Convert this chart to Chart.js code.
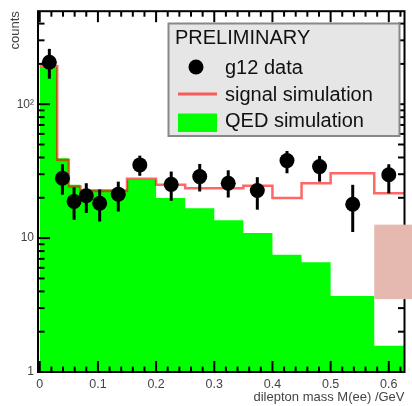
<!DOCTYPE html>
<html>
<head>
<meta charset="utf-8">
<script src="https://cdn.jsdelivr.net/npm/chart.js@4.4.1/dist/chart.umd.min.js"></script>
<style>
  html, body { margin: 0; padding: 0; background: #fff; }
  #chart { display: block; }
</style>
</head>
<body>
<canvas id="chart" width="412" height="406"></canvas>
<script>
// histogram bin edges (GeV); last edge runs past the axis end
const binEdges = [0, 0.03, 0.05, 0.07, 0.09, 0.12, 0.15, 0.2, 0.25, 0.3, 0.35, 0.4, 0.45, 0.5, 0.575, 0.63];
// QED simulation (green) and signal simulation (red) per bin
const qedSim = [189, 39.4, 25.0, 23.2, 23.2, 23.2, 27.3, 19.9, 16.7, 13.6, 10.9, 7.5, 6.6, 3.7, 1.57];
const signalSim = [192, 38.3, 24.3, 22.5, 22.5, 22.5, 27.7, 25.0, 23.6, 23.6, 24.6, 19.9, 25.7, 30.5, 21.6];

// g12 data points with error bars
const dataX = [0.0165, 0.039, 0.059, 0.08, 0.103, 0.135, 0.172, 0.226, 0.275, 0.324, 0.374, 0.425, 0.481, 0.538, 0.6];
const dataY = [206, 28.0, 18.8, 20.7, 18.2, 21.3, 35.2, 25.2, 28.8, 25.7, 22.7, 37.9, 34.2, 17.9, 29.7];
const errLow = [155, 21.1, 13.7, 15.4, 13.3, 15.8, 29.2, 19.0, 22.3, 20.1, 16.3, 30.5, 26.4, 11.1, 21.6];
const errHigh = [259, 35.6, 23.9, 25.7, 23.1, 26.4, 41.3, 31.4, 35.8, 32.1, 28.5, 44.7, 41.1, 25.0, 35.6];

const yTickLabels = { 1: '1', 10: '10', 100: '10\u00b2' };
const legendTitle = 'PRELIMINARY';
const legendLabels = ['g12 data', 'signal simulation', 'QED simulation'];
// pasted-over box: [x start, y bottom, y top]
const pinkBox = [0.575, 3.5, 12.6];

const FONT = "'Liberation Sans', Arial, Helvetica, sans-serif";
const RED = 'rgba(255,0,0,0.6)';
const GREEN = '#00ff00';

function steps(values) {
    const pts = values.map((v, i) => ({ x: binEdges[i], y: v }));
    pts.push({ x: binEdges[binEdges.length - 1], y: values[values.length - 1] });
    return pts;
}

// frame + inward ticks on all four sides, error bars
const frameAndTicks = {
    id: 'frameAndTicks',
    afterDatasetsDraw(chart) {
        const { ctx, chartArea: a, scales: { x, y } } = chart;
        ctx.save();
        ctx.strokeStyle = '#000';
        ctx.lineCap = 'butt';

        // error bars
        ctx.lineWidth = 3;
        dataX.forEach((vx, i) => {
            const px = x.getPixelForValue(vx);
            ctx.beginPath();
            ctx.moveTo(px, y.getPixelForValue(errLow[i]));
            ctx.lineTo(px, y.getPixelForValue(errHigh[i]));
            ctx.stroke();
        });

        ctx.lineWidth = 2;
        const line = (x0, y0, x1, y1) => {
            ctx.beginPath(); ctx.moveTo(x0, y0); ctx.lineTo(x1, y1); ctx.stroke();
        };
        for (let i = 0; i <= 40; i++) {
            const px = x.getPixelForValue(i * 0.02);
            if (px > a.right) break;
            const len = i % 5 === 0 ? 11 : 5.5;
            line(px, a.bottom, px, a.bottom - len);
            line(px, a.top, px, a.top + len);
        }
        for (const d of [1, 10, 100]) {
            for (let m = 1; m <= 9; m++) {
                const v = d * m;
                if (v > y.max) break;
                const py = y.getPixelForValue(v);
                const len = m === 1 ? 12 : 6.5;
                line(a.left, py, a.left + len, py);
                line(a.right, py, a.right - len, py);
            }
        }
        ctx.strokeRect(a.left, a.top, a.right - a.left, a.bottom - a.top);
        ctx.restore();
    },
    afterDraw(chart) {
        const { ctx, scales: { x, y } } = chart;
        ctx.save();
        // pink overlay box
        const x0 = x.getPixelForValue(pinkBox[0]);
        const yTop = y.getPixelForValue(pinkBox[2]);
        const yBot = y.getPixelForValue(pinkBox[1]);
        ctx.fillStyle = '#e5b9b0';
        ctx.fillRect(x0, yTop, chart.width - x0, yBot - yTop);

        // legend box
        ctx.fillStyle = '#e6e6e6';
        ctx.fillRect(168.5, 23.5, 231, 112.5);
        ctx.strokeStyle = '#888';
        ctx.lineWidth = 2;
        ctx.strokeRect(168.5, 23.5, 231, 112.5);

        ctx.fillStyle = '#111';
        ctx.font = '20px ' + FONT;
        ctx.textBaseline = 'alphabetic';
        ctx.textAlign = 'left';
        ctx.fillText(legendTitle, 175, 43.5);
        const baselines = [74, 100.5, 127];
        legendLabels.forEach((t, i) => ctx.fillText(t, 225, baselines[i]));

        ctx.fillStyle = '#000';
        ctx.beginPath();
        ctx.arc(196, 67, 7.5, 0, Math.PI * 2);
        ctx.fill();
        ctx.strokeStyle = RED;
        ctx.lineWidth = 3;
        ctx.beginPath(); ctx.moveTo(178, 94); ctx.lineTo(217, 94); ctx.stroke();
        ctx.fillStyle = GREEN;
        ctx.fillRect(178, 113.5, 39, 18.5);
        ctx.restore();
    }
};

const ctx = document.getElementById('chart').getContext('2d');
new Chart(ctx, {
    type: 'scatter',
    data: {
        datasets: [
            {
                type: 'scatter',
                label: legendLabels[0],
                data: dataX.map((v, i) => ({ x: v, y: dataY[i] })),
                pointRadius: 7.5,
                pointBackgroundColor: '#000',
                pointBorderWidth: 0,
                order: 0
            },
            {
                type: 'line',
                label: legendLabels[1],
                data: steps(signalSim),
                stepped: 'before',
                borderColor: RED,
                borderWidth: 2.5,
                pointRadius: 0,
                fill: false,
                clip: 0,
                order: 1
            },
            {
                type: 'line',
                label: legendLabels[2],
                data: steps(qedSim),
                stepped: 'before',
                borderWidth: 0,
                borderColor: GREEN,
                backgroundColor: GREEN,
                pointRadius: 0,
                fill: 'start',
                clip: 0,
                order: 2
            }
        ]
    },
    options: {
        responsive: false,
        animation: false,
        devicePixelRatio: 1,
        layout: { padding: { top: 9, right: 4.5, left: 0, bottom: 0 } },
        plugins: { legend: { display: false }, tooltip: { enabled: false } },
        scales: {
            x: {
                type: 'linear',
                min: -0.003,
                max: 0.627,
                grid: { display: false, drawTicks: false },
                border: { display: false },
                ticks: {
                    stepSize: 0.1,
                    includeBounds: false,
                    autoSkip: false,
                    maxRotation: 0,
                    padding: 5,
                    color: '#444',
                    font: { family: FONT, size: 12.5 },
                    callback: v => Math.abs(v) < 1e-9 ? '0' : String(+v.toFixed(1))
                },
                title: {
                    display: true,
                    text: 'dilepton mass M(ee) /GeV',
                    align: 'end',
                    color: '#444',
                    font: { family: FONT, size: 13 },
                    padding: { top: 0, bottom: 1 }
                },
                afterFit: s => { s.height = 34; }
            },
            y: {
                type: 'logarithmic',
                min: 1,
                max: 495,
                grid: { display: false, drawTicks: false },
                border: { display: false },
                ticks: {
                    autoSkip: false,
                    padding: 4,
                    color: '#444',
                    font: { family: FONT, size: 12 },
                    callback: v => yTickLabels[v] || ''
                },
                title: {
                    display: true,
                    text: 'counts',
                    align: 'end',
                    color: '#444',
                    font: { family: FONT, size: 13 },
                    padding: { top: 8, bottom: 0 }
                },
                afterFit: s => { s.width = 38; }
            }
        }
    },
    plugins: [frameAndTicks]
});
</script>
</body>
</html>
